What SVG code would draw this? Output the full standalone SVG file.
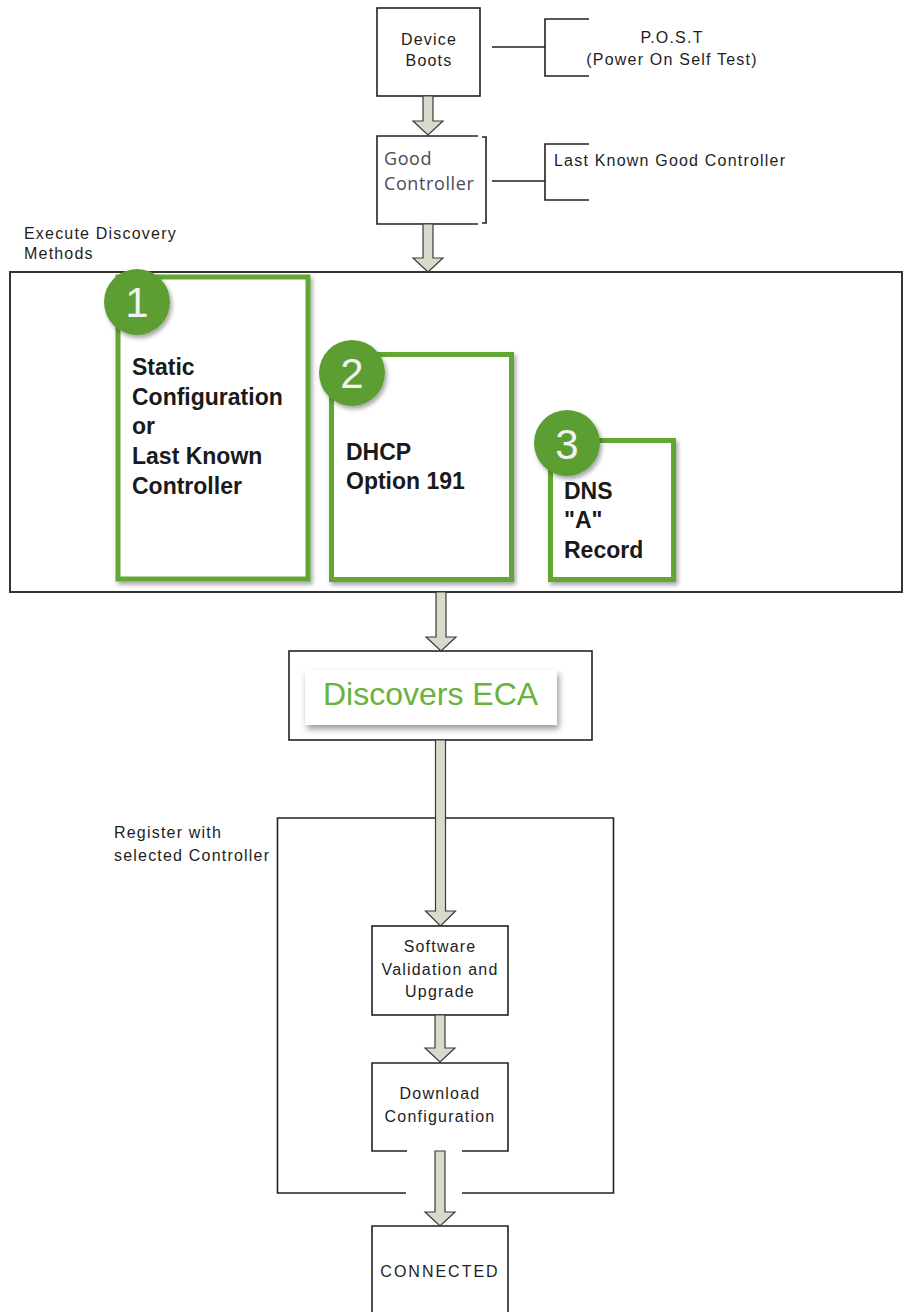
<svg xmlns="http://www.w3.org/2000/svg" width="903" height="1312" viewBox="0 0 903 1312">
<style>
.box{fill:#fff;stroke:#222;stroke-width:1.6}
.ln{fill:none;stroke:#222;stroke-width:1.6}
.big{fill:none;stroke:#333;stroke-width:2}
.t{font-family:"Liberation Sans",Arial,sans-serif;font-size:16px;letter-spacing:1.2px;fill:#1e1e1e}
.tc{text-anchor:middle}
.gc{font-family:"Open Sans","Liberation Sans",sans-serif;font-size:18px;letter-spacing:0.6px;fill:#4a4a55}
.gbox{fill:#fff;stroke:#62a733;stroke-width:5}
.gcirc{fill:#5b9e31}
.num{font-family:"Liberation Sans",Arial,sans-serif;font-size:42px;fill:#f2f2f2;text-anchor:middle}
.bt{font-family:"Liberation Sans",Arial,sans-serif;font-size:23px;font-weight:bold;fill:#1a1a1a}
.arr{fill:#d9dacb;stroke:#3a3a3a;stroke-width:1.2;stroke-linejoin:miter}
.eca{font-family:"Liberation Sans",Arial,sans-serif;font-size:32px;fill:#6ab23e}
</style>
<defs>
<filter id="sh" x="-20%" y="-20%" width="140%" height="140%">
<feDropShadow dx="2" dy="3" stdDeviation="2" flood-color="#000" flood-opacity="0.35"/>
</filter>
<filter id="sh2" x="-20%" y="-30%" width="140%" height="170%">
<feDropShadow dx="2" dy="4" stdDeviation="3" flood-color="#000" flood-opacity="0.4"/>
</filter>
</defs>
<rect width="903" height="1312" fill="#fff"/>

<g id="device-boots">
<rect class="box" x="377" y="8" width="103" height="88"/>
<text class="t tc" x="429" y="45">Device</text>
<text class="t tc" x="429" y="66">Boots</text>
</g>

<g id="post">
<path class="ln" d="M492,47 H545 M589,19 H545 V76 H589"/>
<text class="t tc" x="672" y="43">P.O.S.T</text>
<text class="t tc" x="672" y="65">(Power On Self Test)</text>
</g>

<g id="good-controller">
<path class="ln" d="M478,136 H377 V224 H478 M482,137 H486 V223 H482"/>
<text class="gc" x="384" y="165">Good</text>
<text class="gc" x="384" y="190">Controller</text>
</g>

<g id="last-known-good">
<path class="ln" d="M492,181 H545 M589,144 H545 V200 H589"/>
<text class="t" x="554" y="166">Last Known Good Controller</text>
</g>

<g id="discovery-methods">
<text class="t" x="24" y="239">Execute Discovery</text>
<text class="t" x="24" y="259">Methods</text>
<rect class="big" x="10" y="272" width="892" height="320"/>
</g>

<g id="method-1">
<rect class="gbox" x="118" y="277" width="190" height="302" filter="url(#sh)"/>
<circle class="gcirc" cx="137" cy="302" r="33" filter="url(#sh)"/>
<text class="num" x="137" y="317">1</text>
<text class="bt" x="132" y="375">Static</text>
<text class="bt" x="132" y="405">Configuration</text>
<text class="bt" x="132" y="434">or</text>
<text class="bt" x="132" y="464">Last Known</text>
<text class="bt" x="132" y="494">Controller</text>
</g>

<g id="method-2">
<rect class="gbox" x="331.5" y="354.5" width="180" height="225" filter="url(#sh)"/>
<circle class="gcirc" cx="352" cy="373" r="33" filter="url(#sh)"/>
<text class="num" x="352" y="388">2</text>
<text class="bt" x="346" y="460">DHCP</text>
<text class="bt" x="346" y="489">Option 191</text>
</g>

<g id="method-3">
<rect class="gbox" x="550.5" y="440.5" width="123" height="139" filter="url(#sh)"/>
<circle class="gcirc" cx="567" cy="443" r="33" filter="url(#sh)"/>
<text class="num" x="567" y="459">3</text>
<text class="bt" x="564" y="499">DNS</text>
<text class="bt" x="564" y="528">"A"</text>
<text class="bt" x="564" y="558">Record</text>
</g>

<g id="discovers-eca">
<rect class="box" x="289" y="651" width="303" height="89"/>
<rect x="305" y="670" width="252" height="55" fill="#fff" filter="url(#sh2)"/>
<text class="eca" x="323" y="705">Discovers ECA</text>
</g>

<g id="register">
<path class="ln" d="M406,1193 H277.5 V818 H613.5 V1193 H462"/>
<text class="t" x="114" y="838">Register with</text>
<text class="t" x="114" y="861">selected Controller</text>
</g>

<g id="software-validation">
<rect class="box" x="372" y="926" width="136" height="89"/>
<text class="t tc" x="440" y="952">Software</text>
<text class="t tc" x="440" y="975">Validation and</text>
<text class="t tc" x="440" y="997">Upgrade</text>
</g>

<g id="download-config">
<path class="ln" d="M407,1151 H372 V1063 H508 V1151 H462"/>
<text class="t tc" x="440" y="1099">Download</text>
<text class="t tc" x="440" y="1122">Configuration</text>
</g>

<g id="connected">
<path class="ln" d="M372,1312 V1226 H508 V1312"/>
<text class="t tc" x="440" y="1277" style="letter-spacing:2px">CONNECTED</text>
</g>

<g id="connectors">
<polygon class="arr" points="423,96 433,96 433,121 443,121 428,135 413,121 423,121"/>
<polygon class="arr" points="423,224 433,224 433,258 443,258 428,272 413,258 423,258"/>
<polygon class="arr" points="436,592 446,592 446,637 456,637 441,651 426,637 436,637"/>
<polygon class="arr" points="435.5,740 445.5,740 445.5,911 455.5,911 440.5,926 425.5,911 435.5,911"/>
<polygon class="arr" points="435,1015 445,1015 445,1048 455,1048 440,1062 425,1048 435,1048"/>
<polygon class="arr" points="435,1151 445,1151 445,1212 455,1212 440,1226 425,1212 435,1212"/>
</g>
</svg>
